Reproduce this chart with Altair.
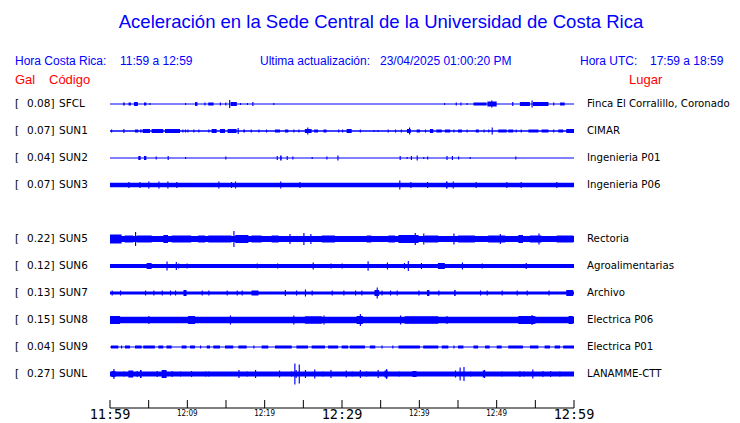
import altair as alt
import pandas as pd

# ---------------- data ----------------
codes = ["SFCL", "SUN1", "SUN2", "SUN3", "SUN5", "SUN6", "SUN7", "SUN8", "SUN9", "SUNL"]
peaks = ["0.08", "0.07", "0.04", "0.07", "0.22", "0.12", "0.13", "0.15", "0.04", "0.27"]
places = ["Finca El Corralillo, Coronado", "CIMAR", "Ingenieria P01", "Ingenieria P06",
          "Rectoria", "Agroalimentarias", "Archivo", "Electrica P06", "Electrica P01",
          "LANAMME-CTT"]
row_slot = [0, 1, 2, 3, 5, 6, 7, 8, 9, 10]          # slot 4 (SUN4) is empty
base_half = [0.5, 0.7, 0.5, 2.2, 2.9, 2.0, 1.6, 3.2, 0.6, 2.4]   # steady trace half-width

# events: (start minute, end minute, half amplitude); end == start -> single spike
SFCL_ev = [(1.7, 1.9, 1.5), (2.4, 2.7, 1.5), (3.1, 3.6, 2), (4.4, 4.7, 1.5), (5.1, 5.1, 1),
           (9.7, 9.7, 1), (11.0, 11.3, 2), (12.2, 12.2, 1.5), (12.7, 13.4, 1.5), (14.2, 14.2, 1.5),
           (14.9, 14.9, 1.5), (15.4, 15.4, 4), (15.6, 16.4, 2), (16.8, 16.8, 1), (17.7, 17.7, 1),
           (18.4, 18.4, 2), (21.1, 21.1, 1), (43.2, 43.2, 1), (44.7, 44.7, 1.5), (45.3, 45.3, 1.5),
           (46.1, 46.1, 1), (47.0, 48.7, 1.5), (48.8, 50.0, 2.5), (49.3, 49.3, 3.5), (52.0, 52.0, 2),
           (53.0, 54.3, 2), (54.5, 54.5, 3.5), (54.7, 56.7, 2), (57.3, 57.3, 1.5), (58.2, 58.8, 1.5)]
SUN1_ev = [(0.13, 0.13, 1.5), (1.72, 1.72, 2), (3.23, 3.66, 1.5), (3.88, 4.09, 1.5), (4.22, 5.17, 2),
           (5.38, 6.89, 2), (7.11, 9.05, 2), (9.35, 9.35, 1.5), (9.69, 9.69, 1.5), (10.0, 10.0, 1.5),
           (10.77, 10.77, 1.5), (11.42, 11.42, 1.5), (12.71, 12.71, 1.5), (13.14, 13.79, 2),
           (14.22, 14.87, 2), (15.21, 16.37, 2), (16.5, 16.5, 3), (17.24, 17.45, 1.5), (18.19, 18.19, 1.5),
           (19.18, 19.18, 1.5), (20.17, 20.17, 1.5), (21.33, 21.98, 1.5), (22.62, 23.06, 1.5),
           (23.7, 23.7, 1.5), (24.35, 24.35, 1.5), (25.2, 26.07, 2), (25.5, 25.5, 3.5),
           (26.4, 26.9, 1.5), (27.6, 28.0, 1.5), (29.5, 29.5, 1.5), (30.0, 30.0, 1.5), (30.6, 31.25, 2),
           (32.3, 32.3, 1.5), (34.05, 34.05, 1), (34.6, 34.6, 1), (35.9, 35.9, 1.5), (36.85, 36.85, 1.5),
           (37.6, 37.6, 1.5), (38.66, 38.66, 3.5), (38.4, 38.9, 2), (39.65, 40.08, 1.5), (40.73, 40.73, 1.5),
           (41.37, 41.8, 2), (42.2, 42.9, 1.5), (43.3, 44.0, 1.5), (44.4, 44.4, 1.5), (45.0, 45.5, 1.5),
           (46.1, 46.1, 1.5), (47.3, 47.7, 1.5), (48.3, 48.3, 1.5), (48.9, 48.9, 1.5), (49.35, 49.35, 3.5),
           (50.2, 51.3, 1.5), (51.5, 52.15, 1.5), (52.45, 52.45, 1.5), (53.1, 53.1, 1.5), (54.1, 55.4, 1.5),
           (55.8, 56.7, 1.5), (57.3, 57.3, 1.5), (57.97, 58.6, 1.5), (59.0, 60.0, 2)]
SUN2_ev = [(3.66, 3.96, 2), (4.4, 4.7, 2), (5.9, 5.9, 1.5), (7.45, 7.45, 2), (9.7, 9.7, 1),
           (14.9, 14.9, 1.5), (21.55, 21.55, 2), (22.0, 22.2, 2.5), (22.84, 22.84, 2), (23.57, 23.57, 1.5),
           (26.07, 26.07, 1), (27.97, 27.97, 1.5), (29.4, 29.4, 2.5), (37.45, 37.45, 2), (38.35, 38.35, 1),
           (38.9, 38.9, 2), (39.65, 39.65, 2.5), (40.5, 40.5, 1), (41.0, 41.0, 1.5), (43.5, 43.5, 2),
           (44.2, 44.2, 2), (45.0, 45.0, 1.5), (46.5, 46.5, 1), (52.4, 52.4, 1.5)]
SUN3_ev = [(2.37, 2.37, 3), (3.79, 3.79, 3), (4.95, 4.95, 3.5), (6.25, 6.25, 3.5), (7.41, 7.41, 3.5),
           (8.57, 8.57, 3), (14.0, 14.0, 3.5), (15.64, 15.64, 3), (16.16, 16.16, 3.5), (22.0, 22.0, 3.5),
           (24.48, 24.48, 3), (37.4, 37.4, 4.5), (38.83, 38.83, 3), (40.99, 40.99, 3), (43.45, 43.65, 3.5),
           (44.31, 44.31, 3.5), (47.28, 47.28, 3), (51.24, 51.24, 3), (53.1, 53.1, 3), (57.7, 57.7, 3)]
SUN5_ev = [(0.0, 1.5, 4.5), (1.9, 3.0, 3.5), (3.23, 3.23, 7), (3.45, 5.4, 3.5), (6.9, 7.5, 4),
           (7.97, 10.5, 3.5), (11.4, 12.3, 3.5), (12.7, 15.7, 3.5), (15.95, 15.95, 8), (16.2, 17.9, 4),
           (18.3, 19.6, 3.5), (20.9, 21.8, 3.5), (23.2, 23.2, 5), (25.0, 25.0, 6), (25.9, 25.9, 5),
           (27.4, 29.1, 3.5), (33.2, 33.8, 3.5), (36.0, 36.85, 3.5), (37.3, 39.9, 4), (39.4, 39.4, 6),
           (40.5, 40.5, 5.5), (40.7, 42.45, 3.5), (44.4, 44.4, 5.5), (45.0, 47.2, 3.5), (48.9, 51.1, 3.5),
           (50.4, 50.4, 5), (52.8, 53.4, 4), (54.3, 55.8, 3.5), (55.4, 55.4, 5.5), (57.75, 59.9, 3.5)]
SUN6_ev = [(4.74, 5.38, 3), (7.3, 7.3, 4.5), (8.5, 8.5, 4), (8.8, 8.8, 2.5), (9.9, 9.9, 2.5),
           (18.96, 18.96, 2.5), (21.6, 21.6, 2.5), (26.2, 26.2, 3.5), (28.5, 28.5, 2.5), (29.95, 29.95, 2.5),
           (33.3, 33.3, 4.7), (35.8, 35.8, 3.5), (38.0, 38.0, 3), (38.5, 38.5, 5), (40.2, 40.2, 3),
           (42.4, 43.3, 3), (45.5, 45.5, 3.5), (48.06, 48.06, 2.5), (53.75, 53.75, 3)]
SUN7_ev = [(0.21, 0.21, 2.5), (1.29, 1.29, 2.5), (4.52, 4.52, 2.5), (5.6, 5.6, 2.5), (6.68, 6.68, 2.5),
           (7.75, 7.75, 2.5), (8.4, 8.4, 2.5), (9.5, 9.9, 3), (11.85, 11.85, 2.5), (12.71, 12.71, 2.5),
           (15.08, 15.08, 2.5), (16.38, 16.38, 2.5), (17.02, 17.02, 2.5), (18.3, 19.2, 2.5), (22.6, 22.6, 3),
           (24.05, 24.05, 2.5), (25.2, 25.2, 3.5), (26.07, 26.07, 2.5), (28.66, 28.66, 2.5),
           (30.17, 30.17, 2.5), (31.68, 31.68, 2.5), (32.5, 32.5, 2.5), (34.48, 34.48, 5.5),
           (34.2, 34.8, 3), (35.1, 35.1, 2.5), (36.2, 36.2, 2.5), (37.06, 37.06, 2.5), (39.87, 39.87, 2.5),
           (41.0, 41.3, 3), (42.45, 42.45, 2.5), (44.5, 44.7, 3), (47.84, 47.84, 2.5), (48.7, 48.7, 2.5),
           (50.64, 50.64, 2.5), (52.58, 52.58, 2.5), (53.87, 53.87, 2.5), (56.7, 56.7, 2.5), (59.0, 59.9, 3)]
SUN8_ev = [(0.0, 1.29, 4), (4.95, 4.95, 4), (10.1, 11.0, 4), (15.5, 15.5, 4.5), (23.7, 23.7, 4.5),
           (25.2, 27.4, 3.7), (27.6, 27.6, 4.5), (32.3, 32.3, 6), (31.9, 32.7, 4), (37.5, 37.5, 4.5),
           (38.1, 42.45, 3.7), (43.5, 43.5, 4), (52.8, 55.0, 4), (54.5, 54.5, 5), (59.3, 59.9, 4)]
SUN9_ev = [(0.13, 1.07, 1.5), (1.42, 1.42, 1.5), (1.94, 2.58, 1.5), (3.23, 4.09, 1.5), (4.3, 5.8, 1.5),
           (6.25, 6.89, 1.5), (7.3, 7.97, 1.5), (9.26, 9.9, 1.5), (10.34, 10.99, 1.5), (11.63, 11.63, 1.5),
           (12.5, 12.93, 1.5), (13.36, 14.22, 1.5), (14.87, 15.94, 1.5), (16.6, 17.67, 1.5),
           (18.53, 18.53, 1.5), (19.6, 20.47, 1.5), (21.33, 23.5, 1.5), (24.1, 25.6, 1.5),
           (26.07, 27.8, 1.5), (28.2, 29.5, 1.5), (29.95, 30.8, 1.5), (31.0, 32.97, 1.5),
           (33.6, 34.3, 1.5), (35.1, 35.1, 1.5), (36.5, 36.5, 1.5), (37.3, 40.08, 1.5), (40.5, 42.45, 1.5),
           (42.9, 43.75, 1.5), (44.4, 44.4, 1.5), (45.0, 45.7, 1.5), (47.0, 47.6, 1.5), (48.5, 49.1, 1.5),
           (50.0, 50.64, 1.5), (51.5, 53.4, 1.5), (54.3, 55.4, 1.5), (56.2, 56.9, 1.5), (57.5, 58.2, 1.5),
           (58.6, 60.0, 1.5)]
SUNL_ev = [(0.43, 0.43, 5), (0.2, 0.7, 3), (1.72, 1.72, 2.5), (2.37, 3.0, 3.5), (3.45, 3.45, 3),
           (3.88, 4.09, 4), (6.03, 6.03, 3), (6.68, 7.32, 4), (7.97, 7.97, 3), (9.05, 9.05, 2.5),
           (10.47, 10.47, 3), (12.28, 12.28, 2.5), (12.71, 12.71, 2.5), (16.6, 16.6, 4), (17.67, 17.67, 2.5),
           (18.75, 18.75, 4), (21.85, 21.85, 3.5), (23.4, 23.4, 2.5), (23.83, 23.83, 10.5), (24.0, 24.0, 4),
           (24.4, 24.4, 9.5), (25.2, 25.2, 4), (26.4, 26.4, 4.5), (27.45, 27.45, 2.5), (28.5, 28.5, 4),
           (30.47, 30.47, 3.5), (31.25, 31.25, 2.5), (32.3, 32.3, 4), (33.1, 33.1, 2.5), (34.6, 34.6, 4),
           (35.5, 35.9, 3.5), (35.7, 35.7, 5), (37.3, 37.3, 2.5), (39.1, 39.65, 3), (44.6, 44.6, 3.5),
           (45.2, 45.2, 6.5), (45.7, 45.7, 7), (46.55, 46.55, 2.5), (48.2, 48.5, 3.5), (48.36, 48.36, 4),
           (50.64, 50.64, 2.5), (52.93, 52.93, 3), (53.45, 53.45, 2.5), (54.6, 54.6, 4.5),
           (55.9, 55.9, 3), (56.9, 56.9, 3), (58.1, 58.1, 2.5)]
events = [SFCL_ev, SUN1_ev, SUN2_ev, SUN3_ev, SUN5_ev, SUN6_ev, SUN7_ev, SUN8_ev, SUN9_ev, SUNL_ev]

tick_minutes = [0, 5, 10, 15, 20, 25, 30, 35, 40, 45, 50, 55, 60]
big_tick_labels = ["11:59", "", "", "", "", "", "12:29", "", "", "", "", "", "12:59"]
small_tick_labels = ["", "", "12:09", "", "12:19", "", "", "", "12:39", "", "12:49", "", ""]

ROW = 27  # row spacing in picture units
SPIKE_W = 0.15

# ---------------- tables ----------------
recs = []
for slot, bh, evs in zip(row_slot, base_half, events):
    c = slot * ROW
    recs.append({"t1": 0.0, "t2": 60.0, "y1": c - bh, "y2": c + bh})
    for a, b, h in evs:
        if b <= a:
            b = a + SPIKE_W
        recs.append({"t1": a, "t2": b, "y1": c - h, "y2": c + h})
trace_df = pd.DataFrame(recs)

label_df = pd.DataFrame({
    "yc": [s * ROW for s in row_slot],
    "peak": [p + "]" for p in peaks],
    "code": codes,
    "place": places,
    "br": ["["] * len(codes),
})
tick_df = pd.DataFrame({"m": tick_minutes, "big": big_tick_labels, "small": small_tick_labels})
axis_df = pd.DataFrame({"a": [tick_minutes[0]], "b": [tick_minutes[-1]]})
one = pd.DataFrame({"k": [0]})

xs = alt.Scale(domain=[0, 60], range=[102, 566], nice=False, zero=False)
ys = alt.Scale(domain=[0, 270], range=[96, 366], nice=False, zero=False)
BLUE = "#0000ff"
RED = "#ff0000"

traces = alt.Chart(trace_df).mark_rect(color=BLUE, strokeWidth=0).encode(
    x=alt.X("t1:Q", scale=xs, axis=None), x2="t2:Q",
    y=alt.Y("y1:Q", scale=ys, axis=None), y2="y2:Q")

lbl_font = dict(font="DejaVu Sans", fontSize=10.5, color="black", baseline="middle")
br = alt.Chart(label_df).mark_text(align="left", **lbl_font).encode(
    x=alt.value(7), y=alt.Y("yc:Q", scale=ys, axis=None), text="br:N")
pk = alt.Chart(label_df).mark_text(align="left", **lbl_font).encode(
    x=alt.value(19), y=alt.Y("yc:Q", scale=ys, axis=None), text="peak:N")
cd = alt.Chart(label_df).mark_text(align="left", **lbl_font).encode(
    x=alt.value(51), y=alt.Y("yc:Q", scale=ys, axis=None), text="code:N")
pl = alt.Chart(label_df).mark_text(align="left", font="DejaVu Sans", fontSize=10.2, color="black",
                                   baseline="middle").encode(
    x=alt.value(579), y=alt.Y("yc:Q", scale=ys, axis=None), text="place:N")

axis_line = alt.Chart(axis_df).mark_rule(color="black", strokeWidth=1).encode(
    x=alt.X("a:Q", scale=xs, axis=None), x2="b:Q", y=alt.value(400))
ticks = alt.Chart(tick_df).mark_rule(color="black", strokeWidth=1).encode(
    x=alt.X("m:Q", scale=xs, axis=None), y=alt.value(392), y2=alt.value(400))
big_lbl = alt.Chart(tick_df).mark_text(font="DejaVu Sans Mono", fontSize=13.5, color="black",
                                       baseline="middle", align="center").encode(
    x=alt.X("m:Q", scale=xs, axis=None), y=alt.value(407), text="big:N")
small_lbl = alt.Chart(tick_df).mark_text(font="DejaVu Sans Condensed", fontSize=8, color="black",
                                         baseline="middle", align="center").encode(
    x=alt.X("m:Q", scale=xs, axis=None), y=alt.value(406), text="small:N")


def txt(s, x, y, color=BLUE, size=12, align="left", font="Liberation Sans"):
    return alt.Chart(one).mark_text(text=s, color=color, fontSize=size, align=align,
                                    baseline="middle", font=font).encode(
        x=alt.value(x), y=alt.value(y))


header = [
    txt("Aceleración en la Sede Central de la Universidad de Costa Rica", 373, 14, size=18.5,
        align="center"),
    txt("Hora Costa Rica:", 7, 53),
    txt("11:59 a 12:59", 112, 53),
    txt("Ultima actualización:", 252, 53),
    txt("23/04/2025 01:00:20 PM", 372, 53),
    txt("Hora UTC:", 572, 53),
    txt("17:59 a 18:59", 642, 53),
    txt("Gal", 7, 72, color=RED, size=13),
    txt("Código", 41, 72, color=RED, size=13),
    txt("Lugar", 621, 72, color=RED, size=13),
]

chart = alt.layer(traces, br, pk, cd, pl, axis_line, ticks, big_lbl, small_lbl, *header).properties(
    width=724, height=415, autosize="none", padding=0
).configure_view(stroke=None)

chart.save("out.html", embed_options={"renderer": "svg", "actions": False})
